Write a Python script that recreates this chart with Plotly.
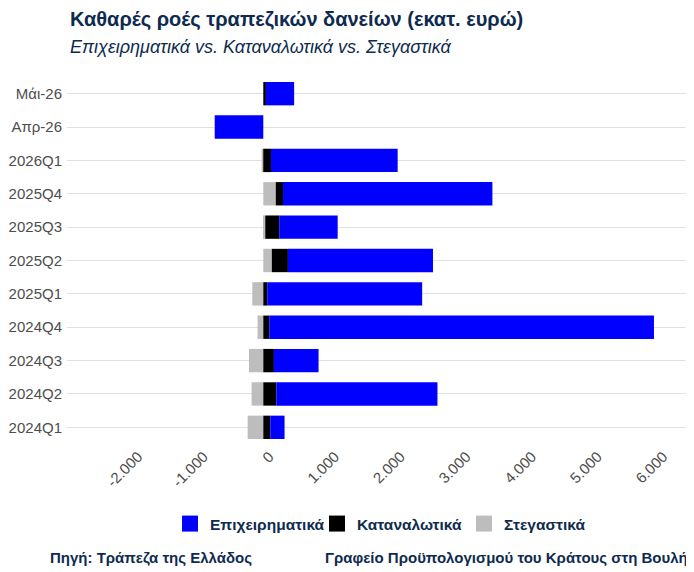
import plotly.graph_objects as go

categories = ["2024Q1", "2024Q2", "2024Q3", "2024Q4", "2025Q1", "2025Q2",
              "2025Q3", "2025Q4", "2026Q1", "Απρ-26", "Μάι-26"]
business = [218, 2455, 680, 5860, 2360, 2210, 890, 3190, 1930, -740, 430]
consumer = [106, 198, 162, 91, 60, 245, 213, 110, 117, 0, 40]
housing = [-238, -178, -218, -87, -167, 130, 30, 190, -25, 0, 0]

series_names = ["Επιχειρηματικά", "Καταναλωτικά", "Στεγαστικά"]
series_colors = ["#0000ff", "#000000", "#bdbdbd"]

x_tickvals = [-2000, -1000, 0, 1000, 2000, 3000, 4000, 5000, 6000]
x_ticktext = ["-2.000", "-1.000", "0", "1.000", "2.000", "3.000", "4.000", "5.000", "6.000"]

NAVY = "#0e2b4f"
FONT = "Liberation Sans, Arial, sans-serif"

# page body adds an 8px margin; work in reference pixel coords and shift
OFF = 8
FW, FH = 694 - OFF, 572 - OFF
L, R, T, B = 67 - OFF, 690 - OFF, 77 - OFF, 444 - OFF
W, H = R - L, B - T


def px(xr):
    return (xr - OFF - L) / W


def py(yr):
    return (B - (yr - OFF)) / H


fig = go.Figure()
# stacking order: housing first, then consumer, then business
for vals, idx in [(housing, 2), (consumer, 1), (business, 0)]:
    fig.add_trace(go.Bar(y=categories, x=vals, orientation="h", name=series_names[idx],
                         marker=dict(color=series_colors[idx], line=dict(width=0)),
                         showlegend=False))
# legend entries
for idx in range(3):
    fig.add_trace(go.Scatter(x=[None], y=[None], mode="markers", name=series_names[idx],
                             marker=dict(symbol="square", size=18, color=series_colors[idx],
                                         line=dict(width=0)),
                             showlegend=True, hoverinfo="skip"))

fig.update_layout(
    width=FW, height=FH,
    barmode="relative",
    bargap=0.3,
    plot_bgcolor="white", paper_bgcolor="white",
    font=dict(family=FONT, size=15, color="#4d4d4d"),
    margin=dict(l=L, r=FW - R, t=T, b=FH - B, autoexpand=False),
    showlegend=True,
    legend=dict(orientation="h", x=px(170), xanchor="left", y=py(524), yanchor="middle",
                font=dict(size=15.5, color=NAVY, family=FONT, weight="bold"),
                traceorder="normal", itemsizing="trace",
                entrywidth=102, entrywidthmode="pixels"),
    xaxis=dict(range=[-2990, 6500], tickvals=x_tickvals, ticktext=x_ticktext,
               tickangle=-45, showgrid=False, zeroline=False, showline=False,
               ticks="", ticklabelshift=6, tickfont=dict(size=15, color="#4d4d4d")),
    yaxis=dict(categoryorder="array", categoryarray=categories,
               range=[-0.5, 10.5],
               showgrid=True, gridcolor="#e0e0e0", gridwidth=1,
               zeroline=False, showline=False, ticks="", ticklabelstandoff=4,
               tickfont=dict(size=15, color="#4d4d4d")),
    annotations=[
        dict(text="<b>Καθαρές ροές τραπεζικών δανείων (εκατ. ευρώ)</b>",
             x=px(68), xref="paper", xanchor="left",
             y=py(19), yref="paper", yanchor="middle", showarrow=False,
             font=dict(size=20, color=NAVY, family=FONT)),
        dict(text="<i>Επιχειρηματικά vs. Καταναλωτικά vs. Στεγαστικά</i>",
             x=px(68), xref="paper", xanchor="left",
             y=py(47), yref="paper", yanchor="middle", showarrow=False,
             font=dict(size=18, color=NAVY, family=FONT)),
        dict(text="<b>Πηγή: Τράπεζα της Ελλάδος</b>",
             x=px(48), xref="paper", xanchor="left",
             y=py(557), yref="paper", yanchor="middle", showarrow=False,
             font=dict(size=15, color=NAVY, family=FONT)),
        dict(text="<b>Γραφείο Προϋπολογισμού του Κράτους στη Βουλή</b>",
             x=px(690), xref="paper", xanchor="right",
             y=py(557), yref="paper", yanchor="middle", showarrow=False,
             font=dict(size=15, color=NAVY, family=FONT)),
    ],
)

fig.write_html("out.html")
